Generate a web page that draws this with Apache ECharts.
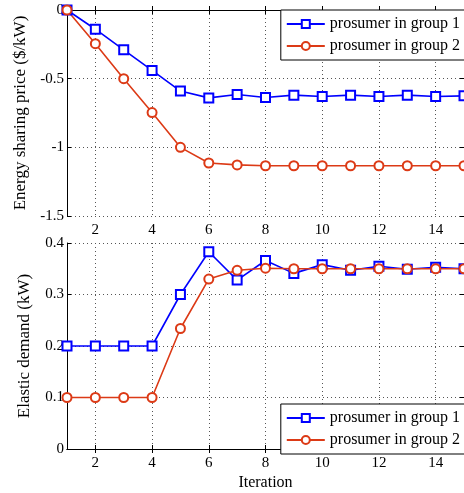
<!DOCTYPE html>
<html>
<head>
<meta charset="utf-8">
<title>ECharts</title>
<script src="https://cdn.jsdelivr.net/npm/echarts@6/dist/echarts.min.js"></script>
</head>
<body style="margin:0">
<div id="main" style="width:464px;height:493px;"></div>
<script type="text/javascript">
// data
var iterations = [1, 2, 3, 4, 5, 6, 7, 8, 9, 10, 11, 12, 13, 14, 15];
var xTicks = [2, 4, 6, 8, 10, 12, 14];
var priceG1 = [0, -0.14, -0.29, -0.44, -0.59, -0.64, -0.615, -0.637, -0.62, -0.63, -0.62, -0.63, -0.62, -0.63, -0.625];
var priceG2 = [0, -0.245, -0.5, -0.747, -1.0, -1.114, -1.128, -1.134, -1.134, -1.134, -1.134, -1.134, -1.134, -1.134, -1.134];
var demandG1 = [0.2, 0.2, 0.2, 0.2, 0.3, 0.383, 0.328, 0.366, 0.341, 0.358, 0.347, 0.355, 0.349, 0.353, 0.35];
var demandG2 = [0.1, 0.1, 0.1, 0.1, 0.234, 0.33, 0.347, 0.351, 0.35, 0.35, 0.35, 0.35, 0.35, 0.35, 0.35];
var names = ['prosumer in group 1', 'prosumer in group 2'];

var BLUE = '#0000ff', RED = '#dc3a16';
var FONT = 'Liberation Serif';

function pairs(ys) {
    var out = [];
    for (var i = 0; i < iterations.length; i++) out.push([iterations[i], ys[i]]);
    return out;
}

function xAx(idx, pos, showLabel) {
    return {
        type: 'value', gridIndex: idx, position: pos, min: 1, max: 15,
        axisLine: {show: true, lineStyle: {color: '#000', width: 1}},
        axisTick: {show: true, inside: true, length: 4, customValues: xTicks, lineStyle: {color: '#000'}},
        axisLabel: {show: showLabel, customValues: xTicks, color: '#000', fontFamily: FONT, fontSize: 15, margin: 7},
        splitLine: {show: pos == 'bottom', lineStyle: {color: '#555', type: [1, 3], width: 1}}
    };
}

function yAx(idx, pos, min, max, interval, showLabel) {
    return {
        type: 'value', gridIndex: idx, position: pos, min: min, max: max, interval: interval,
        axisLine: {show: true, lineStyle: {color: '#000', width: 1}},
        axisTick: {show: true, inside: true, length: 4, lineStyle: {color: '#000'}},
        axisLabel: {show: showLabel, color: '#000', fontFamily: FONT, fontSize: 15, margin: 3},
        splitLine: {show: pos == 'left', lineStyle: {color: '#555', type: [1, 3], width: 1}}
    };
}

function lineSeries(name, xi, yi, data, color, symbol) {
    return {
        name: name, type: 'line', xAxisIndex: xi, yAxisIndex: yi, data: pairs(data),
        symbol: symbol, symbolSize: 9, showSymbol: true,
        lineStyle: {color: color, width: 1.6},
        itemStyle: {color: color, borderColor: color, borderWidth: 1.6},
        emphasis: {disabled: true}
    };
}

var legendBase = {
    orient: 'vertical', right: -2, data: names,
    backgroundColor: '#fff', borderColor: '#000', borderWidth: 1,
    padding: [6, 6, 6, 5], itemGap: 6, itemWidth: 38, itemHeight: 10,
    textStyle: {color: '#000', fontFamily: FONT, fontSize: 16},
    selectedMode: false
};

var myChart = echarts.init(document.getElementById('main'));

var option = {
    animation: false,
    backgroundColor: '#fff',
    textStyle: {fontFamily: FONT},
    grid: [
        {left: 67, top: 10, width: 397, height: 206},
        {left: 67, top: 243, width: 397, height: 206}
    ],
    legend: [
        Object.assign({}, legendBase, {top: 10}),
        Object.assign({}, legendBase, {top: 404})
    ],
    xAxis: [
        xAx(0, 'bottom', true),
        Object.assign(xAx(1, 'bottom', true), {
            name: 'Iteration', nameLocation: 'middle', nameGap: 26,
            nameTextStyle: {color: '#000', fontFamily: FONT, fontSize: 16}
        }),
        xAx(0, 'top', false),
        xAx(1, 'top', false)
    ],
    yAxis: [
        Object.assign(yAx(0, 'left', -1.5, 0, 0.5, true), {
            name: 'Energy sharing price ($/kW)', nameLocation: 'middle', nameGap: 34,
            nameTextStyle: {color: '#000', fontFamily: FONT, fontSize: 17}
        }),
        Object.assign(yAx(1, 'left', 0, 0.4, 0.1, true), {
            name: 'Elastic demand (kW)', nameLocation: 'middle', nameGap: 34,
            nameTextStyle: {color: '#000', fontFamily: FONT, fontSize: 17}
        }),
        yAx(0, 'right', -1.5, 0, 0.5, false),
        yAx(1, 'right', 0, 0.4, 0.1, false)
    ],
    series: [
        lineSeries(names[0], 0, 0, priceG1, BLUE, 'emptyRect'),
        lineSeries(names[1], 0, 0, priceG2, RED, 'emptyCircle'),
        lineSeries(names[0], 1, 1, demandG1, BLUE, 'emptyRect'),
        lineSeries(names[1], 1, 1, demandG2, RED, 'emptyCircle')
    ]
};

myChart.setOption(option);
</script>
</body>
</html>
